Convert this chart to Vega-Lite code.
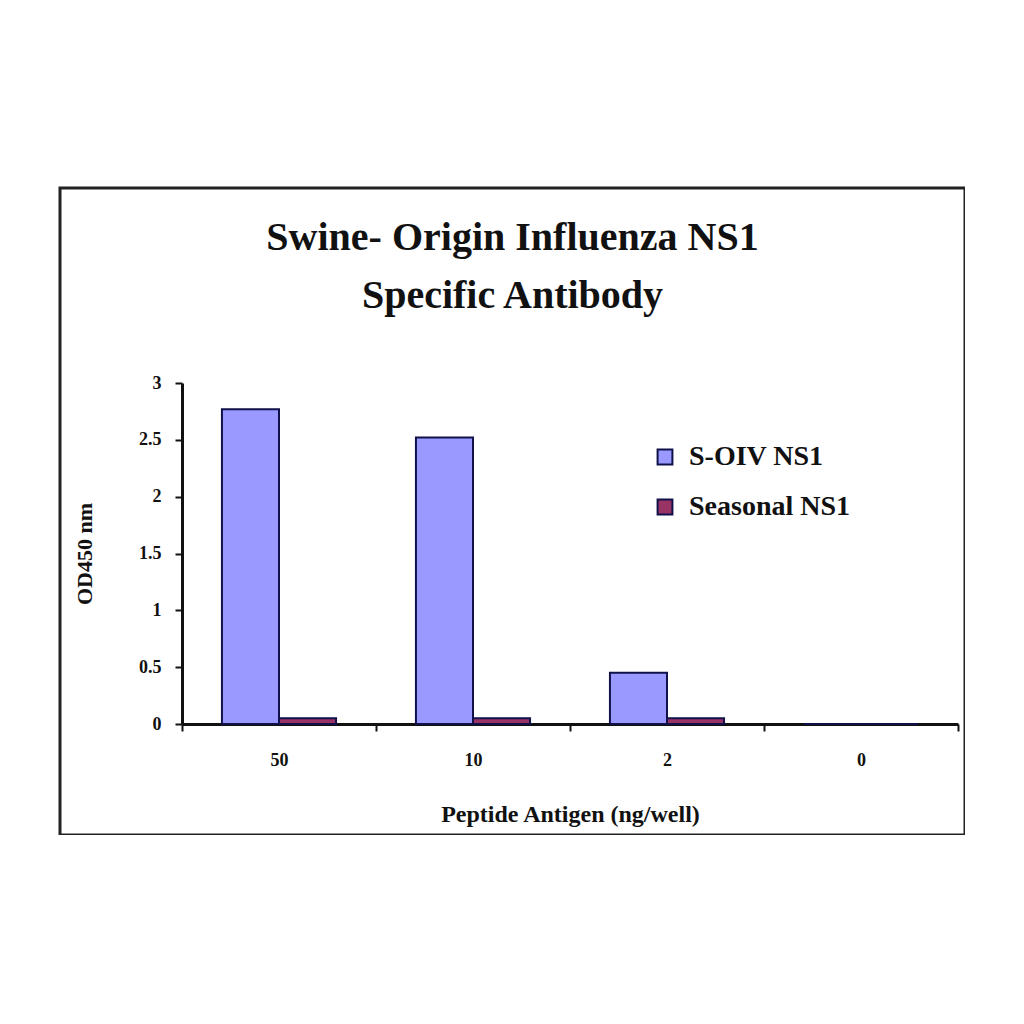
{
  "$schema": "https://vega.github.io/schema/vega-lite/v6.json",
  "width": 905,
  "height": 647,
  "autosize": "none",
  "padding": {"left": 60, "top": 188, "right": 0, "bottom": 0},
  "background": "white",
  "title": {
    "text": ["Swine- Origin Influenza NS1", "Specific Antibody"],
    "font": "Liberation Serif",
    "fontSize": 40,
    "fontWeight": "bold",
    "color": "#111",
    "anchor": "middle",
    "baseline": "bottom",
    "lineHeight": 58,
    "offset": -168
  },
  "data": {
    "values": [
      {"antigen": "50", "series": "S-OIV NS1", "od": 2.77},
      {"antigen": "50", "series": "Seasonal NS1", "od": 0.05},
      {"antigen": "10", "series": "S-OIV NS1", "od": 2.52},
      {"antigen": "10", "series": "Seasonal NS1", "od": 0.05},
      {"antigen": "2", "series": "S-OIV NS1", "od": 0.45},
      {"antigen": "2", "series": "Seasonal NS1", "od": 0.05},
      {"antigen": "0", "series": "S-OIV NS1", "od": 0},
      {"antigen": "0", "series": "Seasonal NS1", "od": 0}
    ]
  },
  "mark": {"type": "bar", "stroke": "#10104a", "strokeWidth": 2},
  "encoding": {
    "x": {
      "field": "antigen",
      "type": "nominal",
      "sort": ["50", "10", "2", "0"],
      "scale": {"range": [122, 898], "paddingInner": 0, "paddingOuter": 0},
      "title": "Peptide Antigen (ng/well)",
      "axis": {
        "orient": "bottom",
        "offset": -111,
        "labelAngle": 0,
        "tickBand": "extent",
        "tickSize": 7,
        "tickWidth": 2,
        "tickColor": "#111",
        "domainColor": "#111",
        "domainWidth": 3,
        "labelFont": "Liberation Serif",
        "labelFontSize": 18,
        "labelFontWeight": "bold",
        "labelColor": "#111",
        "labelPadding": 20,
        "titleFont": "Liberation Serif",
        "titleFontSize": 24,
        "titleFontWeight": "bold",
        "titleColor": "#111",
        "titlePadding": 33
      }
    },
    "xOffset": {
      "field": "series",
      "type": "nominal",
      "sort": ["S-OIV NS1", "Seasonal NS1"],
      "scale": {"paddingInner": 0, "paddingOuter": 0.7}
    },
    "y": {
      "field": "od",
      "type": "quantitative",
      "scale": {"domain": [0, 3], "range": [536, 195], "nice": false},
      "title": "OD450 nm",
      "axis": {
        "orient": "left",
        "offset": -122,
        "values": [0, 0.5, 1, 1.5, 2, 2.5, 3],
        "format": "~g",
        "grid": false,
        "tickSize": 7,
        "tickWidth": 2,
        "tickColor": "#111",
        "domainColor": "#111",
        "domainWidth": 3,
        "labelFont": "Liberation Serif",
        "labelFontSize": 18,
        "labelFontWeight": "bold",
        "labelColor": "#111",
        "labelPadding": 14,
        "titleFont": "Liberation Serif",
        "titleFontSize": 22,
        "titleFontWeight": "bold",
        "titleColor": "#111",
        "titlePadding": 42
      }
    },
    "color": {
      "field": "series",
      "type": "nominal",
      "sort": ["S-OIV NS1", "Seasonal NS1"],
      "scale": {"domain": ["S-OIV NS1", "Seasonal NS1"], "range": ["#9999ff", "#993366"]},
      "legend": {
        "title": null,
        "orient": "none",
        "legendX": 591,
        "legendY": 255,
        "symbolType": "square",
        "symbolSize": 220,
        "symbolStrokeColor": "#10104a",
        "symbolStrokeWidth": 2,
        "rowPadding": 22,
        "labelFont": "Liberation Serif",
        "labelFontSize": 28,
        "labelFontWeight": "bold",
        "labelColor": "#111",
        "labelOffset": 10,
        "labelLimit": 400
      }
    }
  },
  "config": {
    "view": {"stroke": "#222", "strokeWidth": 3}
  }
}
